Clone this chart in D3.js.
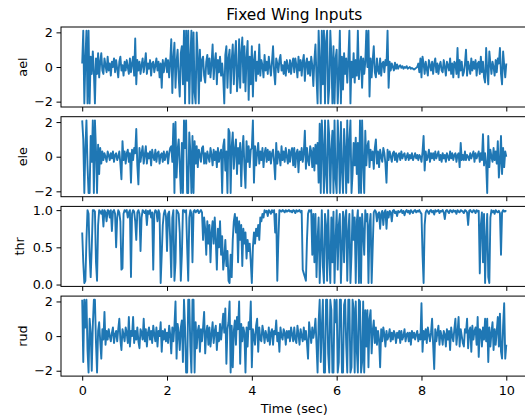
<!DOCTYPE html>
<html>
<head>
<meta charset="utf-8">
<script src="https://cdn.jsdelivr.net/npm/d3@7"></script>
<style>
body { margin: 0; background: #fff; }
text { font-family: "DejaVu Sans", sans-serif; }
</style>
</head>
<body>
<div id="graph"></div>
<script>
// samples every 0.025 s, from 0 to 10 s (one row = 0.5 s)
const dt = 0.025;

const ael = [
    0.2, 2.1, -2.1, 0.4, 2.1, -2.1, 2.1, -2.1, 0.6, -0.4, 0.9, -0.3, -2.1, 0.5, -0.4, 0.8, -0.6, 0.3, 0.8, -0.2,
    -0.4, 0.5, 0.1, -0.3, 0.6, -0.2, 0.2, -0.5, 0.3, 0.0, 0.5, -0.3, 0.4, -0.1, -0.6, 0.3, 0.6, -0.2, 0.1, -0.5,
    0.3, -0.2, 0.4, 0.0, -0.4, 0.5, -0.3, 0.2, 0.6, -0.5, 1.65, -1.0, 0.4, -0.2, 0.3, -0.4, 0.1, 0.5, -0.3, 0.2,
    0.8, -0.4, 0.2, -0.1, 0.4, -0.5, 0.2, 0.3, -0.3, 0.1, 0.5, -0.2, 0.3, -0.6, 0.2, -1.2, 0.4, -0.3, 0.2, 0.5,
    -0.3, 0.4, -0.6, 0.3, 1.6, -1.5, 0.5, 1.4, -1.2, 0.3, 1.0, -0.6, -1.7, 0.8, 1.2, -1.0, 2.1, -2.1, 2.1, -0.8,
    2.1, -2.1, 0.5, 2.1, -2.1, 2.0, -1.5, -2.1, 2.0, 0.6, -2.1, 1.0, -0.8, 0.4, 0.6, -0.5, -0.9, 0.3, 0.7, -0.4,
    0.5, -0.6, 0.2, 1.3, -0.7, 0.3, 0.8, -1.0, 0.4, -0.3, 0.6, -0.5, 0.2, -0.6, -2.1, 0.7, 1.2, -1.2, 0.5, 1.0,
    -1.5, 0.4, 1.3, -1.0, 0.6, 1.5, -1.4, -0.5, 1.6, -1.2, 0.8, 1.7, -0.9, 1.2, -1.4, 0.5, 1.5, -1.9, 0.6, -1.0,
    1.2, -1.7, 0.4, 0.9, -0.8, 0.3, -0.4, 1.3, -0.5, 0.4, 0.1, -0.6, 0.7, -0.2, 0.3, -0.4, 0.6, 0.0, -0.5, 0.3,
    1.2, -0.3, -1.0, 0.5, 0.2, -0.3, 0.4, 0.7, -0.2, 0.1, -0.4, 0.3, -0.5, 0.4, 0.0, -0.3, 0.4, -0.4, 0.2, 0.5,
    -0.3, 0.5, 0.1, -0.6, 0.6, -0.2, 0.4, -0.5, 0.3, 0.7, -0.8, 0.2, 0.5, -0.4, 0.3, -0.5, 0.6, 0.1, -1.1, 0.4,
    1.3, -0.6, -2.1, 2.1, 0.3, -2.1, 2.1, -1.0, 2.1, -2.1, 1.5, 2.1, -2.1, -1.2, 2.1, 0.6, -2.1, 1.2, -2.1, 0.5,
    1.0, -2.1, -0.5, 2.1, -2.1, 0.6, -1.3, 0.8, -0.4, 0.5, -0.9, 0.4, 2.1, -2.1, 0.3, -0.6, 0.8, -0.9, 0.4, -0.5,
    2.1, -0.7, 0.2, 0.6, -1.2, 0.5, -0.4, 0.3, 2.1, 0.0, 2.1, -1.7, 0.5, -0.6, 0.4, 1.2, -0.3, -0.6, 0.5, -0.2,
    -0.4, 0.5, -0.5, 0.2, 0.3, -0.3, 0.4, 0.1, 2.1, -1.2, 0.3, -0.2, 0.2, 0.0, -0.2, 0.25, -0.1, 0.15, -0.1, 0.05,
    0.1, -0.05, 0.05, -0.1, 0.0, -0.05, 0.05, -0.1, -0.05, 0.0, -0.1, -0.05, -0.1, -0.15, -0.1, -0.05, 0.0, 0.2, -0.3, 0.5,
    -0.6, 0.6, 0.2, -0.4, 0.3, -0.1, -0.5, 0.4, 0.1, -0.2, 0.3, -0.4, 0.2, 0.5, -0.3, 0.2, -0.4, 0.1, 0.3, -0.2,
    -0.3, 0.4, 0.0, -0.5, 0.3, 0.1, -0.2, 0.5, -0.4, 0.2, -0.6, 0.3, 0.2, -0.4, 1.1, -0.6, 0.4, -0.2, 0.3, -0.5,
    -0.3, 0.2, 1.0, -0.5, 0.3, 0.0, -0.4, 0.5, -0.2, 0.3, -0.1, 0.4, -0.5, 0.2, 0.3, -0.4, 0.6, -0.3, 0.3, -0.6,
    -0.9, 1.1, -0.2, -1.0, 0.9, 0.2, -0.4, 0.3, 0.0, -0.5, 0.4, -0.3, 0.5, 0.2, 1.1, -0.4, -1.0, 0.9, 0.1, -0.6,
    0.2
];

const ele = [
    2.1, 1.0, -2.1, 0.5, 2.1, -0.5, -2.1, -2.1, 1.2, -0.3, 2.1, -2.1, 2.1, 0.4, -2.1, 0.7, -1.0, 0.5, -0.4, 0.3,
    -0.2, 0.2, 0.0, -0.3, 0.3, 0.1, -0.2, 0.2, -0.1, 0.3, -0.3, 0.1, 0.2, -0.2, 0.0, 0.3, -0.4, -1.3, 0.9, -0.2,
    0.3, -0.4, 0.2, 0.4, -0.3, 0.2, -1.5, 0.4, -0.2, 0.5, 0.2, 1.6, -0.5, -1.6, 0.5, -0.3, 0.2, 0.6, -0.4, 0.1,
    0.6, -0.4, 0.2, -0.1, 0.3, -0.5, 0.4, 0.0, -0.2, 0.4, -0.3, 0.2, 0.3, -0.4, 0.1, 0.2, -0.3, 0.3, -0.2, 0.1,
    0.3, -0.4, 0.2, 0.5, 0.6, -0.3, 1.9, -2.1, 2.0, -1.2, 0.4, 1.0, -0.5, -2.1, 0.8, -2.1, 2.1, 0.5, 2.1, -2.1,
    -2.1, 1.4, 0.3, -2.1, 1.2, -2.1, 0.9, -0.4, 0.6, -0.6, 0.4, 0.1, -0.3, 0.5, 0.6, -0.4, 0.2, -0.4, 0.3, 0.0,
    -0.3, 0.5, 0.1, -0.5, 0.4, -0.2, 0.3, -0.6, 0.5, -0.3, 0.2, 0.4, -2.1, 0.6, 1.0, -0.8, 0.3, -2.1, 1.6, 1.4,
    -2.1, 0.6, 1.4, -0.7, 0.4, 1.0, -1.0, 0.5, -0.4, 0.8, -1.7, 0.3, 1.2, -0.6, -1.8, 0.9, -0.3, 0.6, -0.6, 0.4,
    0.5, 2.1, -1.5, 0.6, -0.5, 0.2, 0.8, -0.4, 0.3, -0.2, 0.5, -0.6, 0.2, 0.5, -0.3, 0.4, -0.2, 0.3, -0.4, 0.2,
    0.4, -0.3, -1.3, 0.8, -0.4, 0.3, 0.1, -0.5, 0.6, -0.2, 0.3, -0.3, 0.5, 0.0, -0.4, 0.4, -0.3, 0.3, 0.5, -0.5,
    0.5, -0.6, 0.2, 0.4, -0.9, 0.3, -0.2, 0.5, -0.3, 0.2, 1.5, -0.7, 0.5, -0.2, -0.5, 0.6, 0.3, -0.6, 0.5, -0.8,
    0.7, -0.4, 0.8, -1.5, 1.9, -2.1, 2.1, 0.5, -2.1, 2.1, -1.0, -2.1, 2.1, 1.2, -2.1, 0.4, 1.5, -2.1, 2.1, -1.3,
    -2.1, 2.1, 0.6, -2.1, 2.0, -0.8, -2.1, 1.6, 0.4, -2.1, 2.1, -1.5, 0.9, 2.1, -2.1, -1.0, 0.8, -0.5, 1.1, -1.0,
    0.8, -2.1, 2.1, -2.1, 2.1, -0.4, -2.1, 1.5, -0.5, 0.6, 0.9, -0.6, 0.4, -0.2, 0.3, -0.7, 0.5, 1.0, -0.4, 0.3,
    -0.6, 0.4, 0.0, -0.3, 0.5, 0.2, -0.4, -1.5, 0.4, -0.2, 0.3, 0.0, -0.3, 0.2, 0.3, -0.2, 0.2, -0.3, 0.1, 0.2,
    -0.2, 0.3, -0.1, 0.1, 0.2, -0.2, 0.0, 0.2, -0.2, 0.1, -0.1, 0.2, -0.2, 0.0, 0.2, -0.1, 0.1, -0.2, 0.1, 0.0,
    -0.3, 0.3, 1.2, -0.8, 0.3, -0.2, 0.0, 0.4, -0.3, 0.2, -0.1, 0.2, -0.2, 0.3, -0.1, 0.1, 0.3, -0.2, 0.1, -0.3,
    0.2, -0.1, 0.1, -0.3, 0.2, 0.0, -0.2, 0.3, -0.1, 0.2, -0.2, 0.1, 0.2, -0.3, 0.1, 0.2, -0.6, 0.8, -0.2, 0.1,
    -0.2, 0.3, -0.2, 0.1, 0.0, -0.2, 0.2, -0.1, 0.1, 0.3, -0.3, 0.2, -0.1, 0.1, 0.3, -0.3, 0.2, -0.2, 1.3, -0.5,
    0.2, -0.4, -2.1, 1.2, -0.6, 0.4, 0.0, -0.3, 0.5, -0.2, 0.3, -0.4, 0.9, -1.2, -0.3, 1.2, -1.0, 0.5, -0.6, 0.3,
    0.0
];

const thr = [
    0.70, 0.30, 0.02, 0.05, 0.60, 1.00, 0.95, 0.40, 0.10, 0.50, 1.00, 1.00, 0.98, 0.30, 0.05, 0.80, 1.00, 0.98, 0.95, 1.00,
    0.78, 1.00, 0.97, 0.85, 1.00, 0.99, 0.90, 1.00, 0.72, 0.98, 1.00, 0.95, 0.50, 0.90, 1.00, 0.97, 0.85, 0.20, 0.22, 0.95,
    1.00, 0.98, 1.00, 0.90, 0.97, 1.00, 0.10, 0.95, 1.00, 0.98, 0.85, 0.60, 0.97, 1.00, 0.95, 0.45, 0.90, 1.00, 0.98, 0.96,
    1.00, 0.80, 0.99, 0.95, 1.00, 0.90, 0.97, 0.20, 0.95, 1.00, 0.98, 0.85, 1.00, 0.95, 0.02, 0.40, 0.80, 0.95, 1.00, 0.92,
    0.45, 0.95, 0.98, 0.60, 0.10, 0.90, 1.00, 0.05, 0.30, 1.00, 0.98, 0.95, 0.70, 0.05, 0.40, 1.00, 1.00, 0.97, 1.00, 0.50,
    0.05, 0.90, 1.00, 0.95, 0.30, 0.98, 1.00, 0.97, 0.99, 1.00, 0.96, 0.98, 1.00, 0.97, 0.60, 0.90, 0.75, 0.40, 0.85, 0.55,
    0.80, 0.30, 0.70, 0.85, 0.55, 0.90, 0.60, 0.20, 0.75, 0.50, 0.85, 0.40, 0.65, 0.20, 0.35, 0.60, 0.25, 0.45, 0.05, 0.02,
    0.40, 0.10, 0.60, 0.85, 0.95, 0.70, 0.90, 0.30, 0.85, 0.60, 0.80, 0.25, 0.75, 0.55, 0.70, 0.35, 0.60, 0.45, 0.55, 0.30,
    0.02, 0.50, 0.70, 0.55, 0.75, 0.65, 0.80, 0.60, 0.90, 0.85, 0.95, 0.90, 1.00, 0.97, 0.99, 0.92, 1.00, 0.98, 0.95, 1.00,
    0.97, 1.00, 0.70, 0.95, 0.05, 0.60, 1.00, 0.99, 0.98, 1.00, 0.99, 0.97, 1.00, 0.98, 0.99, 1.00, 0.98, 0.99, 0.97, 1.00,
    0.99, 0.96, 1.00, 0.98, 0.99, 1.00, 0.97, 0.99, 0.20, 0.15, 0.10, 0.05, 0.60, 0.95, 1.00, 0.98, 1.00, 0.40, 0.95, 0.30,
    0.95, 0.10, 0.60, 0.90, 0.02, 0.50, 1.00, 0.25, 0.02, 0.95, 0.80, 0.05, 1.00, 0.40, 0.02, 0.90, 0.30, 0.98, 0.02, 0.60,
    1.00, 0.20, 0.80, 0.95, 0.02, 0.50, 0.98, 0.30, 0.90, 1.00, 0.05, 0.70, 0.95, 0.02, 0.40, 1.00, 0.60, 0.90, 0.02, 0.85,
    1.00, 0.02, 0.90, 0.02, 0.95, 0.70, 0.40, 1.00, 0.85, 0.95, 0.02, 0.80, 0.95, 0.02, 0.50, 0.97, 1.00, 0.98, 0.85, 0.95,
    0.97, 0.75, 0.95, 0.99, 0.80, 0.97, 1.00, 0.75, 0.98, 0.90, 0.99, 0.97, 0.85, 0.99, 1.00, 0.96, 0.98, 0.92, 0.99, 0.97,
    0.98, 1.00, 0.96, 0.99, 0.93, 0.98, 1.00, 0.97, 0.99, 0.95, 1.00, 0.98, 0.96, 0.99, 1.00, 0.97, 0.99, 0.98, 1.00, 0.97,
    0.95, 0.40, 0.02, 0.80, 0.97, 1.00, 0.98, 0.95, 0.99, 1.00, 0.97, 0.99, 0.94, 1.00, 0.98, 0.99, 1.00, 0.96, 0.99, 0.98,
    1.00, 0.97, 0.88, 0.99, 1.00, 0.98, 0.96, 1.00, 0.99, 0.97, 1.00, 0.98, 0.99, 0.95, 1.00, 0.98, 0.97, 1.00, 0.99, 0.98,
    0.96, 1.00, 0.99, 0.97, 0.80, 0.99, 1.00, 0.98, 0.97, 1.00, 0.99, 0.96, 1.00, 0.98, 0.99, 0.15, 0.80, 0.97, 0.30, 0.95,
    0.02, 0.60, 0.95, 0.10, 0.02, 0.90, 1.00, 0.97, 0.99, 0.95, 1.00, 0.98, 0.97, 0.99, 0.96, 0.40, 0.97, 1.00, 0.98, 0.99,
    0.98
];

const rud = [
    2.1, -1.5, 2.1, 0.5, 2.1, -0.8, -2.1, 1.0, 0.2, -2.0, 0.6, 2.1, 2.1, -0.4, -2.1, 0.3, 0.8, -0.3, -1.3, 0.4,
    -0.2, 1.4, -0.5, 0.3, -0.2, 0.4, 0.0, -0.3, 0.2, 0.5, -0.4, 0.1, 0.3, -0.3, 0.4, 1.0, -0.2, -0.8, 0.4, 0.1,
    -0.3, 0.5, 0.2, -0.4, 1.1, -0.6, 0.3, 0.0, 1.1, -0.4, 0.3, -0.2, 0.5, -0.3, -0.7, 0.4, 0.2, -0.2, 1.0, -0.3,
    0.4, -0.6, 0.2, 0.5, -0.2, 0.3, -0.4, 0.6, 0.1, -0.3, 0.5, -0.6, 0.3, 0.0, 0.8, -0.9, 0.3, -0.2, 0.4, -0.3,
    0.2, -0.4, 0.6, 0.1, -1.0, 0.5, -0.3, 0.6, 2.0, -1.3, 0.7, 0.2, -0.8, 0.5, 0.9, -1.5, 2.1, 0.5, -2.1, -2.1,
    2.1, 2.1, -0.6, -2.1, 2.1, 2.1, -2.1, 0.8, -0.7, 0.3, 0.6, -0.9, 0.4, -0.3, 0.5, 1.4, -1.0, 0.2, 0.6, -0.5,
    0.5, -0.6, 0.1, 0.8, -0.4, 0.3, 0.6, -0.8, 0.2, -0.3, 0.7, -0.2, 0.5, 1.3, 0.2, 1.6, -1.6, 0.4, 0.8, 2.0,
    -2.1, 0.6, -1.8, 0.3, 0.9, -0.5, 1.1, 0.4, 2.0, -1.6, 0.7, -0.3, 0.5, 0.2, -2.1, 0.5, -0.6, 0.8, 0.4, 2.0,
    -1.8, 0.4, 0.0, -0.5, 0.6, 1.0, -0.9, 0.5, -0.2, -0.3, 0.6, 0.2, -0.4, 0.3, 0.0, -0.3, 0.5, -0.5, 0.2, 0.4,
    -0.5, 0.3, 0.1, 0.9, -0.3, 0.2, -0.9, 0.5, 0.0, -0.2, 0.4, 0.2, -0.5, 0.3, -0.1, 0.3, -0.3, 0.5, 0.1, -0.3,
    0.5, -0.2, -0.4, 0.6, 0.1, -0.5, 0.4, 0.0, -0.3, 0.5, -0.2, 0.3, -0.4, -1.3, 0.8, 0.2, -0.4, 0.5, -0.1, 0.3,
    1.0, -0.5, -2.1, 0.8, 2.1, -1.5, 0.5, 2.1, -2.1, -2.1, 2.1, 2.1, -1.0, -2.1, 2.1, 1.5, -2.1, -2.1, 2.1, 0.8,
    2.1, -2.1, -1.5, 2.1, 2.1, -2.1, -2.1, 1.8, 2.1, -0.5, -2.1, 2.1, 2.1, -2.1, -1.8, 2.1, 1.6, -2.1, 2.0, -0.8,
    -2.1, 2.1, 2.0, -2.1, -1.5, 2.0, -2.1, 1.5, -0.6, 1.5, -1.8, 1.0, 1.5, -1.0, 0.3, 0.9, -0.4, 0.5, -0.5, 0.3,
    -0.2, -1.8, 0.4, -0.3, 0.5, 0.1, -0.6, 0.3, -0.2, 0.0, 0.4, -0.3, 0.2, -0.2, 0.3, 0.1, -0.4, 0.2, -0.1, 0.3,
    -0.4, 0.3, -0.2, 0.0, 0.4, -0.3, 0.1, 0.2, -0.3, 0.2, -0.5, 0.3, -0.1, 0.2, -0.2, 0.1, 0.3, -0.3, 0.1, -0.2,
    1.9, -0.9, 0.3, -0.2, 0.4, -0.4, 0.5, 0.1, -0.3, 0.2, 1.0, -0.5, -1.9, 0.4, -0.3, 0.2, 0.6, -0.5, 0.3, 0.0,
    -0.5, 0.3, 0.1, -0.6, 0.4, -0.2, 0.3, -0.8, 0.5, 0.0, -0.3, 0.4, 1.0, -0.5, 0.2, 1.1, -0.6, 0.4, 0.0, -0.4,
    -0.6, 0.4, 0.2, 1.0, -0.7, 0.3, 0.5, -0.9, 0.6, -0.2, 0.3, 0.5, -0.5, 1.1, -1.2, 0.4, 0.3, -0.6, 0.5, -0.2,
    1.0, -0.3, 1.0, -1.5, 0.5, -0.6, 0.2, 0.8, -0.8, 0.4, -0.5, 0.3, 1.1, -0.6, 1.3, -0.9, -1.3, 0.6, 1.9, -1.3,
    -0.5
];

const series = [ael, ele, thr, rud];
const names = ['ael', 'ele', 'thr', 'rud'];
const yTicks = [[-2, 0, 2], [-2, 0, 2], [0, 0.5, 1], [-2, 0, 2]];
const yDomains = [[-2.31, 2.31], [-2.31, 2.31], [-0.025, 1.05], [-2.31, 2.31]];
const xTicks = [0, 2, 4, 6, 8, 10];

function createChart() {
    const W = 525, H = 420;
    const left = 61, right = 527.5;
    const panelTop = 27, panelH = 80, pitch = 89.7;
    const blue = '#1f77b4';
    const fs = 12.8;

    var svg = d3.select('#graph')
        .append('svg')
        .attr('width', W)
        .attr('height', H);

    var xScale = d3.scaleLinear()
        .domain([-0.5, 10.5])
        .range([left, right]);

    svg.append('text')
        .attr('x', (left + right) / 2)
        .attr('y', 19.5)
        .attr('text-anchor', 'middle')
        .attr('font-size', 15.4)
        .text('Fixed Wing Inputs');

    series.forEach(function(vals, k) {
        var top = panelTop + k * pitch;
        var yScale = d3.scaleLinear()
            .domain(yDomains[k])
            .range([top + panelH, top]);

        var g = svg.append('g');

        g.append('clipPath')
            .attr('id', 'clip' + k)
            .append('rect')
            .attr('x', left)
            .attr('y', top)
            .attr('width', right - left)
            .attr('height', panelH);

        var line = d3.line()
            .x(function(d, i) { return xScale(i * dt); })
            .y(function(d) { return yScale(d); });

        g.append('path')
            .datum(vals)
            .attr('d', line)
            .attr('clip-path', 'url(#clip' + k + ')')
            .attr('fill', 'none')
            .attr('stroke', blue)
            .attr('stroke-width', 1.9)
            .attr('stroke-linejoin', 'round');

        // spines
        g.append('rect')
            .attr('x', left)
            .attr('y', top)
            .attr('width', right - left)
            .attr('height', panelH)
            .attr('fill', 'none')
            .attr('stroke', '#000')
            .attr('stroke-width', 1);

        var fmt = k === 2 ? d3.format('.1f') : d3.format('d');
        var yAxis = g.append('g')
            .attr('transform', 'translate(' + left + ',0)')
            .call(d3.axisLeft(yScale).tickValues(yTicks[k]).tickFormat(fmt).tickSize(4.5).tickPadding(3.5));
        yAxis.select('.domain').remove();
        yAxis.attr('font-size', fs).attr('font-family', '"DejaVu Sans", sans-serif');
        yAxis.selectAll('line').attr('stroke-width', 1);

        var xAxis = g.append('g')
            .attr('transform', 'translate(0,' + (top + panelH) + ')')
            .call(d3.axisBottom(xScale).tickValues(xTicks).tickSize(4.5).tickPadding(5)
                .tickFormat(k === 3 ? d3.format('d') : ''));
        xAxis.select('.domain').remove();
        xAxis.attr('font-size', fs).attr('font-family', '"DejaVu Sans", sans-serif');
        xAxis.selectAll('line').attr('stroke-width', 1);

        g.append('text')
            .attr('transform', 'translate(' + (k === 2 ? 24 : 26.5) + ',' + (top + panelH / 2) + ') rotate(-90)')
            .attr('text-anchor', 'middle')
            .attr('font-size', fs)
            .text(names[k]);
    });

    svg.append('text')
        .attr('x', (left + right) / 2)
        .attr('y', 413)
        .attr('text-anchor', 'middle')
        .attr('font-size', fs)
        .text('Time (sec)');
}

createChart();
</script>
</body>
</html>
